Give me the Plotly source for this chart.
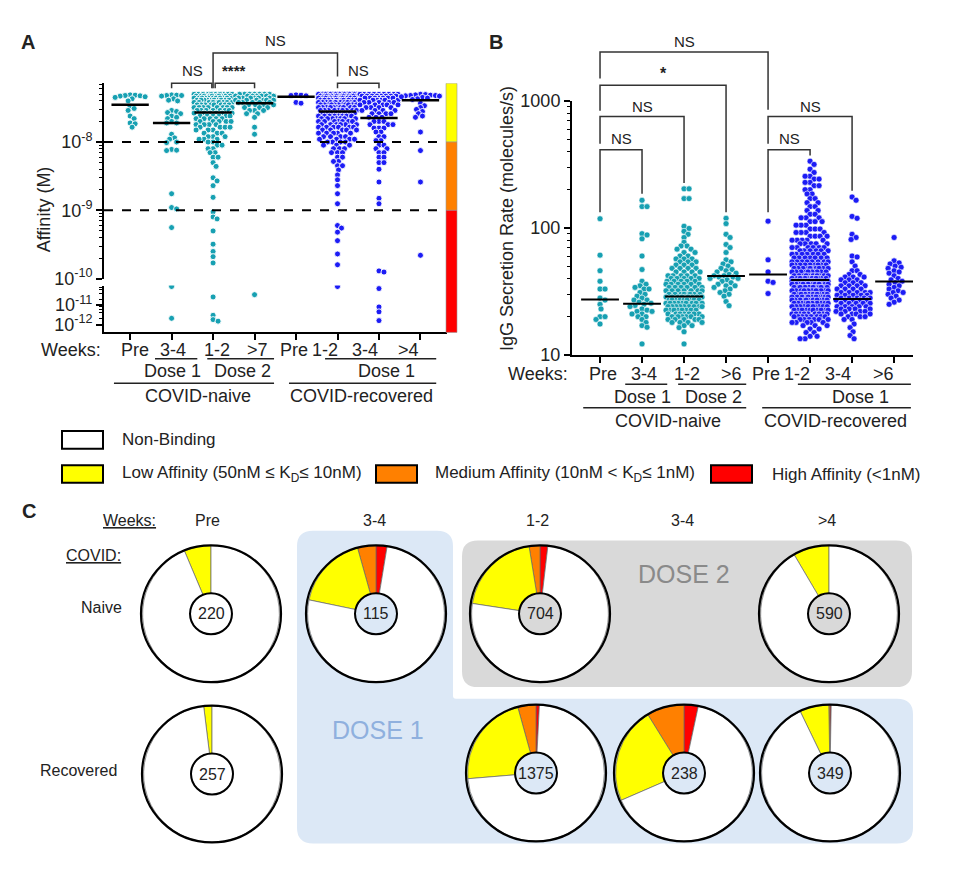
import math
import plotly.graph_objects as go

W, H = 955, 870
FONT = "Liberation Sans, Arial, sans-serif"
TXT = "#222222"
TEAL = "#17a0b2"
BLUE = "#1c1cf5"

# ------------------------------------------------------------------ data
weeks_A = ["Pre", "3-4", "1-2", ">7", "Pre", "1-2", "3-4", ">4"]
weeks_B = ["Pre", "3-4", "1-2", ">6", "Pre", "1-2", "3-4", ">6"]
group_cohort = ["naive", "naive", "naive", "naive",
                "recovered", "recovered", "recovered", "recovered"]

# Panel A : affinity (KD, M) of binding clones, per group
aff_naive_pre = [4.9e-8, 4.85e-8, 4.8e-8, 4.75e-8, 4.7e-8, 4.6e-8, 4.5e-8, 4.3e-8, 4.0e-8,
                 3.3e-8, 3.1e-8, 2.9e-8, 2.4e-8, 2.2e-8, 1.9e-8, 1.85e-8, 1.65e-8]
aff_naive_d1_34 = [4.9e-8, 4.85e-8, 4.8e-8, 4.8e-8, 4.7e-8, 4.3e-8, 4.1e-8, 4.0e-8, 2.9e-8,
                   2.8e-8, 2.7e-8, 2.6e-8, 2.4e-8, 2.3e-8, 2.2e-8, 2.0e-8, 1.9e-8, 1.9e-8,
                   1.3e-8, 1.15e-8, 1.1e-8, 1.0e-8, 9.8e-9, 7.8e-9, 7.6e-9, 7.5e-9, 1.75e-9,
                   1.1e-9, 1.05e-9, 5.6e-10, 8.9e-11, 2.1e-12]
aff_naive_d2_12_val = [5.0e-8, 4.7e-8, 4.4e-8, 4.1e-8, 3.8e-8, 3.5e-8, 3.2e-8, 2.9e-8, 2.65e-8,
                       2.4e-8, 2.2e-8, 2.0e-8, 1.8e-8, 1.65e-8, 1.5e-8, 1.35e-8, 1.2e-8, 1.1e-8,
                       1.0e-8, 9e-9, 8e-9, 7e-9, 6e-9, 5e-9, 4.4e-9, 3e-9, 2.7e-9, 2.3e-9,
                       1.55e-9, 9.5e-10, 8e-10, 7.5e-10, 5e-10, 3.2e-10, 2.5e-10, 2.1e-10,
                       1.7e-10, 2.6e-11, 3e-12, 1.8e-12, 1.5e-12]
aff_naive_d2_12_cnt = [12, 12, 11, 10, 9, 8, 8, 7, 6, 6, 5, 5, 4, 4, 3, 3, 3, 3, 2, 2, 2, 2, 2,
                       1, 1, 1, 1, 1, 1, 1, 1, 1, 1, 1, 1, 1, 1, 1, 1, 1, 1]
aff_naive_d2_7_val = [5.0e-8, 4.7e-8, 4.4e-8, 4.1e-8, 3.8e-8, 3.5e-8, 3.2e-8, 2.9e-8, 2.6e-8,
                      2.3e-8, 1.65e-8, 1.3e-8, 3.4e-11]
aff_naive_d2_7_cnt = [7, 7, 6, 6, 5, 4, 3, 3, 2, 1, 1, 1, 1]
aff_rec_pre = [4.9e-8, 4.85e-8, 4.8e-8, 4.75e-8, 3.8e-8, 3.7e-8]
aff_rec_d1_12_val = [5.0e-8, 4.7e-8, 4.4e-8, 4.1e-8, 3.8e-8, 3.5e-8, 3.2e-8, 2.9e-8, 2.65e-8,
                     2.4e-8, 2.2e-8, 2.0e-8, 1.8e-8, 1.65e-8, 1.5e-8, 1.35e-8, 1.2e-8, 1.1e-8,
                     1.0e-8, 9e-9, 8e-9, 7e-9, 6e-9, 5.2e-9, 4.5e-9, 3.9e-9, 3.3e-9, 2.8e-9,
                     2.3e-9, 1.75e-9, 1.25e-9, 6e-10, 5.5e-10, 4.8e-10, 3.6e-10, 2.3e-10,
                     1.6e-10, 8.9e-11]
aff_rec_d1_12_cnt = [16, 15, 14, 13, 12, 11, 10, 9, 8, 8, 7, 7, 6, 6, 5, 5, 4, 4, 4, 3,
                     3, 3, 2, 2, 2, 1, 1, 1, 1, 1, 1, 1, 1, 1, 1, 1, 1, 1]
aff_rec_d1_34_val = [5.0e-8, 4.7e-8, 4.4e-8, 4.1e-8, 3.8e-8, 3.5e-8, 3.2e-8, 2.9e-8, 2.6e-8,
                     2.3e-8, 2.0e-8, 1.8e-8, 1.6e-8, 1.4e-8, 1.2e-8, 1.05e-8, 9e-9, 8e-9,
                     7e-9, 6e-9, 5e-9, 4e-9, 2.6e-9, 1.5e-9, 1.25e-9, 1.3e-10, 1.25e-10,
                     7e-11, 8e-12, 4.5e-12, 1.6e-12]
aff_rec_d1_34_cnt = [9, 8, 7, 6, 5, 5, 4, 4, 4, 3, 3, 3, 3, 2, 2, 2, 2, 2, 2, 2, 2, 1, 1, 1, 1,
                     1, 1, 1, 1, 1, 1]
aff_rec_d1_4 = [5.0e-8, 4.95e-8, 4.9e-8, 4.85e-8, 4.8e-8, 4.8e-8, 4.75e-8, 4.7e-8, 4.6e-8,
                4.5e-8, 4.4e-8, 4.3e-8, 4.2e-8, 3.7e-8, 3.4e-8, 3.2e-8, 3.0e-8, 2.8e-8,
                2.6e-8, 2.4e-8, 2.3e-8, 1.4e-8, 7.5e-9, 2.6e-9, 2.2e-10]
aff_median = [3.5e-8, 1.9e-8, 2.7e-8, 3.7e-8, 4.6e-8, 2.8e-8, 2.24e-8, 4.1e-8]

# Panel B : IgG secretion rate (molecules/s)
igg_naive_pre = [118, 61, 46, 38, 33, 33, 28, 27, 25, 23, 20, 20, 19, 17.5]
igg_naive_d1_34 = [165, 147, 147, 90, 88, 82, 60, 47, 38, 36, 35, 34, 33, 33, 31, 30, 29, 28,
                   27, 27, 26, 25.5, 25, 24.5, 24, 23, 22.5, 22, 22, 21, 21, 20, 20, 19, 18,
                   17, 16.5, 12.2]
igg_naive_d2_12_val = [203, 170, 103, 99, 94, 89, 84, 77, 72, 68, 64, 60, 57, 54, 51, 48, 45,
                       42, 40, 38, 36, 34, 32, 30, 28.5, 27, 25.5, 24, 22.5, 21, 20, 19, 18,
                       17, 16.4, 15.2, 12.2]
igg_naive_d2_12_cnt = [2, 2, 1, 1, 1, 1, 1, 1, 2, 2, 2, 2, 3, 3, 3, 4, 4, 5, 5, 5, 6, 6, 7, 8,
                       9, 9, 9, 9, 8, 7, 6, 5, 4, 2, 1, 1, 1]
igg_naive_d2_6 = [119, 108, 89, 84, 74, 70, 64, 56, 54, 52, 50, 48, 47, 46, 45, 44, 43, 42, 42,
                  41, 41, 40, 40, 39, 38, 37, 36, 35, 35, 34, 33, 32, 31, 30, 29, 26.3, 24.4]
igg_rec_pre = [113, 56, 45, 38, 37.2, 30.4]
igg_rec_d1_12_val = [335, 316, 290, 273, 255, 242, 228, 215, 200, 185, 170, 158, 147, 137, 128,
                     120, 112, 105, 98, 92, 86, 80, 75, 70, 66, 62, 58, 54, 51, 48, 45, 42, 40,
                     38, 36, 34, 32, 30, 28.5, 27, 25.5, 24, 22.5, 21, 20, 19, 18, 17, 16, 15,
                     14, 13.4]
igg_rec_d1_12_cnt = [1, 1, 1, 1, 2, 2, 2, 2, 2, 2, 2, 2, 2, 2, 2, 3, 3, 3, 3, 4, 4, 5, 5, 6, 6,
                     7, 7, 8, 9, 10, 11, 12, 13, 13, 14, 14, 14, 14, 13, 13, 12, 11, 10, 9,
                     8, 6, 5, 3, 2, 2, 2, 2]
igg_rec_d1_34_val = [175, 165, 123, 119, 89, 84, 81, 60, 59, 54, 50, 46, 43, 41, 39, 37, 35, 33,
                     31, 29.5, 28, 27, 25.5, 24, 23, 22, 21, 20, 19, 17.5, 16.4, 15.2, 14.2,
                     13.4]
igg_rec_d1_34_cnt = [1, 1, 1, 1, 1, 1, 1, 1, 1, 1, 1, 2, 2, 3, 3, 3, 4, 4, 5, 5, 5, 5, 5, 5, 4,
                     4, 4, 3, 2, 1, 1, 1, 1, 1]
igg_rec_d1_6 = [84, 55, 53, 52, 50, 49, 48, 46, 45, 44, 42, 40, 39, 38, 37, 36, 35, 34, 33, 32,
                31, 31, 30, 29, 28, 27, 26, 25]
igg_median = [27.3, 25.3, 28.8, 41.7, 43.0, 38.9, 27.6, 37.8]

# Panel C : clone counts per affinity class
pie_total = [220, 115, 704, 590, 257, 1375, 238, 349]
pie_high = [0, 3, 13, 0, 0, 11, 8, 1]
pie_medium = [0, 5, 18, 0, 0, 59, 21, 1]
pie_low = [14, 20, 141, 50, 5, 303, 54, 24]
pie_labels = ["High Affinity", "Medium Affinity", "Low Affinity", "Non-Binding"]
pie_colors = ["#ff0000", "#ff8000", "#ffff00", "#ffffff"]
c_weeks = ["Pre", "3-4", "1-2", "3-4", ">4"]


def expand(vals, cnts=None):
    if cnts is None:
        return list(vals)
    out = []
    for v, c in zip(vals, cnts):
        out += [v] * c
    return out


groups_A = [expand(aff_naive_pre), expand(aff_naive_d1_34),
            expand(aff_naive_d2_12_val, aff_naive_d2_12_cnt),
            expand(aff_naive_d2_7_val, aff_naive_d2_7_cnt),
            expand(aff_rec_pre), expand(aff_rec_d1_12_val, aff_rec_d1_12_cnt),
            expand(aff_rec_d1_34_val, aff_rec_d1_34_cnt), expand(aff_rec_d1_4)]
groups_B = [expand(igg_naive_pre), expand(igg_naive_d1_34),
            expand(igg_naive_d2_12_val, igg_naive_d2_12_cnt), expand(igg_naive_d2_6),
            expand(igg_rec_pre), expand(igg_rec_d1_12_val, igg_rec_d1_12_cnt),
            expand(igg_rec_d1_34_val, igg_rec_d1_34_cnt), expand(igg_rec_d1_6)]


# ------------------------------------------------------------------ layout helpers
def X(px):
    return px / W


def Y(py):
    return 1 - py / H


A_left, A_right, A_top, A_break_hi, A_break_lo, A_bottom = 104, 447, 75, 275, 282, 330
A_xr = [-0.63, 7.64]
A_up_r = [-10, -7.14]
A_lo_r = [-12.4, -10]
B_left, B_right, B_top, B_bottom = 572, 913, 93, 353
B_xr = [-0.667, 7.45]
B_r = [1, 3]

A_ppu = (A_right - A_left) / (A_xr[1] - A_xr[0])
B_ppu = (B_right - B_left) / (B_xr[1] - B_xr[0])

# label centre positions (axis units) of the week labels
A_lab_pos = [0.12, 1.04, 2.10, 3.06, 3.95, 4.70, 5.67, 6.70]
B_lab_pos = [0.07, 1.05, 2.07, 3.12, 3.95, 4.69, 5.67, 6.74]


def A_pix(v):
    lv = math.log10(v)
    if lv >= -10:
        return A_top + (A_up_r[1] - lv) * (A_break_hi - A_top) / (A_up_r[1] - A_up_r[0])
    return A_break_lo + (A_lo_r[1] - lv) * (A_bottom - A_break_lo) / (A_lo_r[1] - A_lo_r[0])


def B_pix(v):
    lv = math.log10(v)
    return B_top + (B_r[1] - lv) * (B_bottom - B_top) / (B_r[1] - B_r[0])


def swarm(ys, d, maxhalf, step=1.0):
    n = len(ys)
    order = sorted(range(n), key=lambda i: ys[i])
    cands = [0.0]
    k = 1
    while k * step <= maxhalf:
        cands += [k * step, -k * step]
        k += 1
    placed = []
    offs = [0.0] * n
    for i in order:
        y = ys[i]
        near = [(px, py) for px, py in placed if abs(py - y) < d]
        chosen = None
        for c in cands:
            if all((c - px) ** 2 + (y - py) ** 2 >= d * d for px, py in near):
                chosen = c
                break
        if chosen is None:
            best = -1
            for c in cands:
                m = min((c - px) ** 2 + (y - py) ** 2 for px, py in near)
                if m > best + 1e-9:
                    best, chosen = m, c
        placed.append((chosen, y))
        offs[i] = chosen
    return offs


fig = go.Figure()

# ------------------------------------------------------------------ panel A points
for gi, vals in enumerate(groups_A):
    col = TEAL if group_cohort[gi] == "naive" else BLUE
    ys = [A_pix(v) for v in vals]
    offs = swarm(ys, 4.4, 19)
    up_x, up_y, lo_x, lo_y = [], [], [], []
    for v, o in zip(vals, offs):
        if v >= 1e-10:
            up_x.append(gi + o / A_ppu); up_y.append(v)
        else:
            lo_x.append(gi + o / A_ppu); lo_y.append(v)
    mk = dict(color=col, size=6, line=dict(color="white", width=0.9))
    fig.add_trace(go.Scatter(x=up_x, y=up_y, mode="markers", marker=mk,
                             xaxis="x", yaxis="y", hoverinfo="skip"))
    if lo_x:
        fig.add_trace(go.Scatter(x=lo_x, y=lo_y, mode="markers", marker=mk,
                                 xaxis="x", yaxis="y2", hoverinfo="skip"))

for gi, m in enumerate(aff_median):
    fig.add_trace(go.Scatter(x=[gi - 0.45, gi + 0.45], y=[m, m], mode="lines",
                             line=dict(color="black", width=2.5),
                             xaxis="x", yaxis="y", hoverinfo="skip"))

for thr in [1e-8, 1e-9]:
    fig.add_trace(go.Scatter(x=[A_xr[0], A_xr[1]], y=[thr, thr], mode="lines",
                             line=dict(color="black", width=2, dash="dash"),
                             xaxis="x", yaxis="y", hoverinfo="skip"))

# ------------------------------------------------------------------ panel B points
for gi, vals in enumerate(groups_B):
    col = TEAL if group_cohort[gi] == "naive" else BLUE
    ys = [B_pix(v) for v in vals]
    offs = swarm(ys, 4.8, 18)
    fig.add_trace(go.Scatter(x=[gi + o / B_ppu for o in offs], y=vals, mode="markers",
                             marker=dict(color=col, size=6,
                                         line=dict(color="white", width=0.6)),
                             xaxis="x2", yaxis="y3", hoverinfo="skip"))
for gi, m in enumerate(igg_median):
    fig.add_trace(go.Scatter(x=[gi - 0.45, gi + 0.45], y=[m, m], mode="lines",
                             line=dict(color="black", width=2),
                             xaxis="x2", yaxis="y3", hoverinfo="skip"))

# ------------------------------------------------------------------ panel C pies
pie_centers = [(211, 618), (376, 618), (540, 618), (829, 618),
               (212, 782), (536, 781), (684, 781), (830, 781)]
PR = 70
shapes = []
annotations = []


def rounded_poly(pts, radii):
    n = len(pts)
    segs = []
    for i in range(n):
        p0 = pts[i - 1]
        p1 = pts[i]
        p2 = pts[(i + 1) % n]
        r = radii[i]
        d1 = math.hypot(p1[0] - p0[0], p1[1] - p0[1])
        d2 = math.hypot(p2[0] - p1[0], p2[1] - p1[1])
        a = (p1[0] + (p0[0] - p1[0]) * r / d1, p1[1] + (p0[1] - p1[1]) * r / d1)
        b = (p1[0] + (p2[0] - p1[0]) * r / d2, p1[1] + (p2[1] - p1[1]) * r / d2)
        segs.append((a, p1, b))
    path = "M %.5f %.5f " % (X(segs[0][0][0]), Y(segs[0][0][1]))
    for i, (a, c, b) in enumerate(segs):
        if i > 0:
            path += "L %.5f %.5f " % (X(a[0]), Y(a[1]))
        path += "Q %.5f %.5f %.5f %.5f " % (X(c[0]), Y(c[1]), X(b[0]), Y(b[1]))
    return path + "Z"


shapes.append(dict(type="path", xref="paper", yref="paper", layer="below",
                   path=rounded_poly([(297, 533), (453, 533), (453, 705), (913, 705),
                                      (913, 853), (297, 853)], [16, 16, 3, 16, 16, 16]),
                   fillcolor="#dce8f6", line=dict(width=0)))
shapes.append(dict(type="path", xref="paper", yref="paper", layer="below",
                   path=rounded_poly([(462, 543), (912, 543), (912, 693), (462, 693)],
                                     [16, 16, 16, 16]),
                   fillcolor="#d9d9d9", line=dict(width=0)))

for i, (cx, cy) in enumerate(pie_centers):
    nb = pie_total[i] - pie_high[i] - pie_medium[i] - pie_low[i]
    fig.add_trace(go.Pie(values=[pie_high[i], pie_medium[i], pie_low[i], nb],
                         labels=pie_labels, sort=False, direction="counterclockwise",
                         rotation=0, hole=0.3, textinfo="none", hoverinfo="skip",
                         marker=dict(colors=pie_colors, line=dict(color="#666666", width=0.7)),
                         domain=dict(x=[X(cx - PR), X(cx + PR)], y=[Y(cy + PR), Y(cy - PR)]),
                         showlegend=False))
    shapes.append(dict(type="circle", xref="paper", yref="paper", layer="above",
                       x0=X(cx - PR), x1=X(cx + PR), y0=Y(cy + PR), y1=Y(cy - PR),
                       line=dict(color="black", width=2.2)))
    shapes.append(dict(type="circle", xref="paper", yref="paper", layer="above",
                       x0=X(cx - 21), x1=X(cx + 21), y0=Y(cy + 21), y1=Y(cy - 21),
                       line=dict(color="black", width=2)))
    annotations.append(dict(text=str(pie_total[i]), x=X(cx), y=Y(cy), xref="paper",
                            yref="paper", showarrow=False, xanchor="center",
                            yanchor="middle", font=dict(size=16, color=TXT, family=FONT)))


def ann(text, px, py, size=18, xanchor="center", color=TXT, **kw):
    annotations.append(dict(text=text, x=X(px), y=Y(py), xref="paper", yref="paper",
                            showarrow=False, xanchor=xanchor, yanchor="middle",
                            font=dict(size=size, color=color, family=FONT), **kw))


def annx(text, xref, xv, py, size=18):
    annotations.append(dict(text=text, x=xv, y=Y(py), xref=xref, yref="paper",
                            showarrow=False, xanchor="center", yanchor="middle",
                            font=dict(size=size, color=TXT, family=FONT)))


def hline(xref, x0, x1, py, w=1.5):
    shapes.append(dict(type="line", xref=xref, yref="paper", x0=x0, x1=x1,
                       y0=Y(py), y1=Y(py), line=dict(color=TXT, width=w)))


def bracket(xref, x0, x1, yh, yl, yr, w=1.5):
    path = "M %f,%f L %f,%f L %f,%f L %f,%f" % (x0, Y(yl), x0, Y(yh), x1, Y(yh), x1, Y(yr))
    shapes.append(dict(type="path", xref=xref, yref="paper", path=path,
                       line=dict(color="#333333", width=w)))


# C text
ann("<b>C</b>", 29, 513, size=20)
ann("<u>Weeks:</u>", 129, 522, size=16)
ann("<u>COVID:</u>", 93, 558, size=16)
ann("Naive", 101, 612, size=16)
ann("Recovered", 78, 778, size=16)
for lbl, px in zip(c_weeks, [207, 374, 537, 682, 827]):
    ann(lbl, px, 522, size=16)
ann("DOSE 2", 684, 577, size=25, color="#8a8a8a")
ann("DOSE 1", 378, 737, size=25, color="#8fb0de")

# legend
leg = [("Non-Binding", "#ffffff", 62, 431, 120),
       ("Low Affinity (50nM \u2264 K<sub>D</sub>\u2264 10nM)", "#ffff00", 62, 466, 120),
       ("Medium Affinity (10nM < K<sub>D</sub>\u2264 1nM)", "#ff8000", 376, 466, 433),
       ("High Affinity (<1nM)", "#ff0000", 711, 466, 770)]
for text, col, bx, by, tx in leg:
    shapes.append(dict(type="rect", xref="paper", yref="paper", x0=X(bx), x1=X(bx + 41),
                       y0=Y(by + 18), y1=Y(by), fillcolor=col,
                       line=dict(color="black", width=2)))
    ann(text, tx, by + 9, size=17, xanchor="left")

# ------------------------------------------------------------------ panel A/B decorations
ann("<b>A</b>", 28, 33, size=20)
ann("<b>B</b>", 496, 33, size=20)
ann("Affinity (M)", 44, 204, size=18, textangle=-90)
ann("IgG Secretion Rate (molecules/s)", 507, 214, size=18, textangle=-90)
ann("Weeks:", 71, 348, size=18)
ann("Weeks:", 538, 373, size=18)
for lbl, xv in zip(weeks_A, A_lab_pos):
    annx(lbl, "x", xv, 348)
for lbl, xv in zip(weeks_B, B_lab_pos):
    annx(lbl, "x2", xv, 373)

# colour bar next to A
shapes.append(dict(type="rect", xref="paper", yref="y", x0=X(446), x1=X(457),
                   y0=1e-8, y1=10 ** A_up_r[1], fillcolor="#ffff00",
                   line=dict(color="#999999", width=0.6)))
shapes.append(dict(type="rect", xref="paper", yref="y", x0=X(446), x1=X(457),
                   y0=1e-9, y1=1e-8, fillcolor="#ff8000",
                   line=dict(color="#999999", width=0.6)))
shapes.append(dict(type="rect", xref="paper", yref="paper", x0=X(446), x1=X(457),
                   y0=Y(A_bottom), y1=Y(A_pix(1e-9)), fillcolor="#ff0000",
                   line=dict(color="#999999", width=0.6)))

# A group labels
hline("x", 0.60, 1.62, 357)
hline("x", 1.86, 3.47, 357)
hline("x", 4.70, 7.38, 357)
hline("x", -0.39, 3.47, 382)
hline("x", 3.83, 7.38, 382)
annx("Dose 1", "x", 1.01, 369)
annx("Dose 2", "x", 2.70, 369)
annx("Dose 1", "x", 6.17, 369)
annx("COVID-naive", "x", 1.64, 395)
annx("COVID-recovered", "x", 5.59, 395)

# A brackets
bracket("x", 2, 5, 44, 80, 68)
annx("NS", "x", 3.5, 31, size=15)
bracket("x", 1, 1.97, 75, 80, 80)
annx("NS", "x", 1.5, 62, size=15)
bracket("x", 2.05, 3, 75, 80, 80)
annx("<b>****</b>", "x", 2.5, 62, size=15)
bracket("x", 5, 6, 75, 80, 80)
annx("NS", "x", 5.5, 62, size=15)

# B group labels
hline("x2", 0.60, 1.60, 383)
hline("x2", 1.86, 3.48, 383)
hline("x2", 4.71, 7.40, 383)
hline("x2", -0.40, 3.48, 407)
hline("x2", 3.86, 7.40, 407)
annx("Dose 1", "x2", 1.02, 396)
annx("Dose 2", "x2", 2.69, 396)
annx("Dose 1", "x2", 6.19, 396)
annx("COVID-naive", "x2", 1.62, 421)
annx("COVID-recovered", "x2", 5.60, 421)

# B brackets
bracket("x2", 0, 4, 43, 70, 102)
annx("NS", "x2", 2.02, 32, size=15)
bracket("x2", 0, 3, 77, 103, 207)
annx("<b>*</b>", "x2", 1.5, 65, size=16)
bracket("x2", 0, 2, 109, 137, 177)
annx("NS", "x2", 1.02, 99, size=15)
bracket("x2", 0, 1, 143, 207, 188)
annx("NS", "x2", 0.52, 132, size=15)
bracket("x2", 4, 6, 109, 137, 185)
annx("NS", "x2", 5.0, 99, size=15)
bracket("x2", 4, 5, 143, 207, 149)
annx("NS", "x2", 4.5, 132, size=15)

# ------------------------------------------------------------------ axes
A_minor = [k * 10 ** n for n in (-10, -9, -8) for k in range(2, 10)
           if math.log10(k * 10 ** n) < A_up_r[1]]
A_lo_minor = [k * 10 ** n for n in (-12, -11) for k in (2, 4, 6, 8)]
B_minor = [k * 10 ** n for n in (1, 2) for k in range(2, 10)]
tickfont = dict(size=18, color=TXT, family=FONT)
common = dict(showgrid=False, zeroline=False, showline=True, linecolor="black",
              linewidth=2, ticks="outside", tickwidth=2, tickcolor="black",
              tickfont=tickfont)

fig.update_layout(
    width=W, height=H, margin=dict(l=0, r=0, t=0, b=0),
    paper_bgcolor="white", plot_bgcolor="rgba(0,0,0,0)",
    showlegend=False, font=dict(family=FONT, color=TXT),
    xaxis=dict(domain=[X(A_left), X(A_right)], range=A_xr, anchor="y2",
               tickvals=list(range(8)), showticklabels=False, ticklen=6, **common),
    yaxis=dict(domain=[Y(A_break_hi), Y(A_top)], type="log", range=A_up_r, anchor="x",
               tickvals=[1e-10, 1e-9, 1e-8],
               ticktext=["10<sup>-10</sup>", "10<sup>-9</sup>", "10<sup>-8</sup>"],
               ticklen=6, minor=dict(tickvals=A_minor, ticks="outside", ticklen=3,
                                     tickwidth=1.2, tickcolor="black"), **common),
    yaxis2=dict(domain=[Y(A_bottom), Y(A_break_lo)], type="log", range=A_lo_r, anchor="x",
                tickvals=[1e-12, 1e-11],
                ticktext=["10<sup>-12</sup>", "10<sup>-11</sup>"], ticklen=6,
                minor=dict(tickvals=A_lo_minor, ticks="outside", ticklen=3,
                           tickwidth=1.2, tickcolor="black"), **common),
    xaxis2=dict(domain=[X(B_left), X(B_right)], range=B_xr, anchor="y3",
                tickvals=list(range(8)), showticklabels=False, ticklen=6, **common),
    yaxis3=dict(domain=[Y(B_bottom), Y(B_top)], type="log", range=B_r, anchor="x2",
                tickvals=[10, 100, 1000], ticktext=["10", "100", "1000"], ticklen=6,
                minor=dict(tickvals=B_minor, ticks="outside", ticklen=3, tickwidth=1.2,
                           tickcolor="black"), **common),
    shapes=shapes, annotations=annotations,
)

fig.write_html("out.html", config={"displayModeBar": False},
               post_script="document.body.style.margin='0';")
